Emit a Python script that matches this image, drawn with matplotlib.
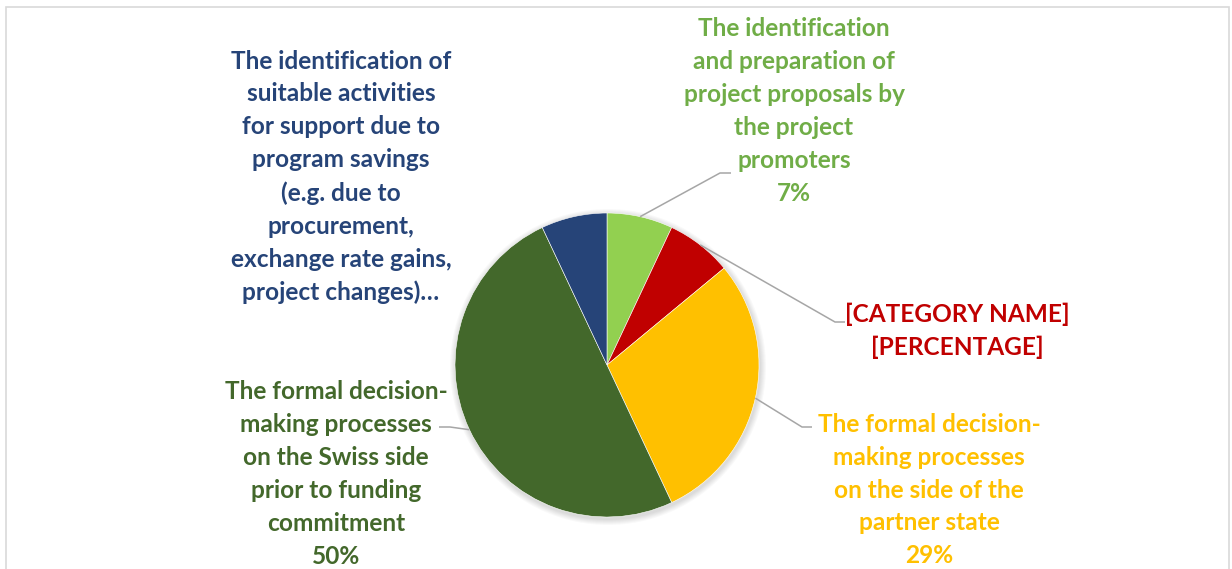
import numpy as np
import matplotlib.pyplot as plt
from matplotlib.patches import Rectangle, Circle

# Slices clockwise from 12 o'clock
labels = [
    "The identification\nand preparation of\nproject proposals by\nthe project\npromoters",
    "[CATEGORY NAME]",
    "The formal decision-\nmaking processes\non the side of the\npartner state",
    "The formal decision-\nmaking processes\non the Swiss side\nprior to funding\ncommitment",
    "The identification of\nsuitable activities\nfor support due to\nprogram savings\n(e.g. due to\nprocurement,\nexchange rate gains,\nproject changes)…",
]
values = [7, 7, 29, 50, 7]
pct_text = ["7%", "[PERCENTAGE]", "29%", "50%", None]

wedge_colors = ["#92D050", "#C00000", "#FFC000", "#43682B", "#264478"]
text_colors = ["#70AD47", "#C00000", "#FFC000", "#43682B", "#264478"]

W, H = 1232, 569
fig = plt.figure(figsize=(W / 100, H / 100), dpi=100)
ax = fig.add_axes([0, 0, 1, 1])

# chart frame
ax.add_patch(Rectangle((6, -20), 1223, H - 7 + 20, fill=False,
                       edgecolor="#D9D9D9", linewidth=1.2))

cx, cy, r = 607, H - 365, 152

# soft shadow
for k in range(6):
    ax.add_patch(Circle((cx + 1, cy - 2), r + 1 + k, color="#000000",
                        alpha=0.025, linewidth=0, zorder=1))

wedges, _ = ax.pie(values, colors=wedge_colors, startangle=90, counterclock=False,
                   center=(cx, cy), radius=r, frame=True,
                   wedgeprops=dict(linewidth=0.4, edgecolor="white"))
for w in wedges:
    w.set_zorder(2)
ax.set_xlim(0, W)
ax.set_ylim(0, H)
ax.set_aspect("equal")
ax.axis("off")

# label layout (pixel coords from the top-left): text centre, elbow, line end
text_pos = [(794, 111), (957, 331), (929, 490), (336, 474), (341, 177)]
elbows = [((720, 173), (731, 173)), ((835, 322), (845, 322)),
          ((802, 427), (812, 427)), ((450, 427), (439, 427)), None]

font = dict(family=["Lato", "DejaVu Sans"], fontweight="bold", fontsize=17.6)

for i, w in enumerate(wedges):
    txt = labels[i] if pct_text[i] is None else labels[i] + "\n" + pct_text[i]
    tx, ty = text_pos[i]
    ax.text(tx, H - ty, txt, ha="center", va="center", color=text_colors[i],
            linespacing=1.52, zorder=4, **font)
    if elbows[i] is not None:
        ang = np.deg2rad((w.theta1 + w.theta2) / 2)
        sx, sy = cx + r * np.cos(ang), cy + r * np.sin(ang)
        (ex, ey), (fx, fy) = elbows[i]
        ax.plot([sx, ex, fx], [sy, H - ey, H - fy], color="#A6A6A6",
                linewidth=1.1, zorder=3, solid_capstyle="butt")

fig.savefig("out.png", dpi=100)
